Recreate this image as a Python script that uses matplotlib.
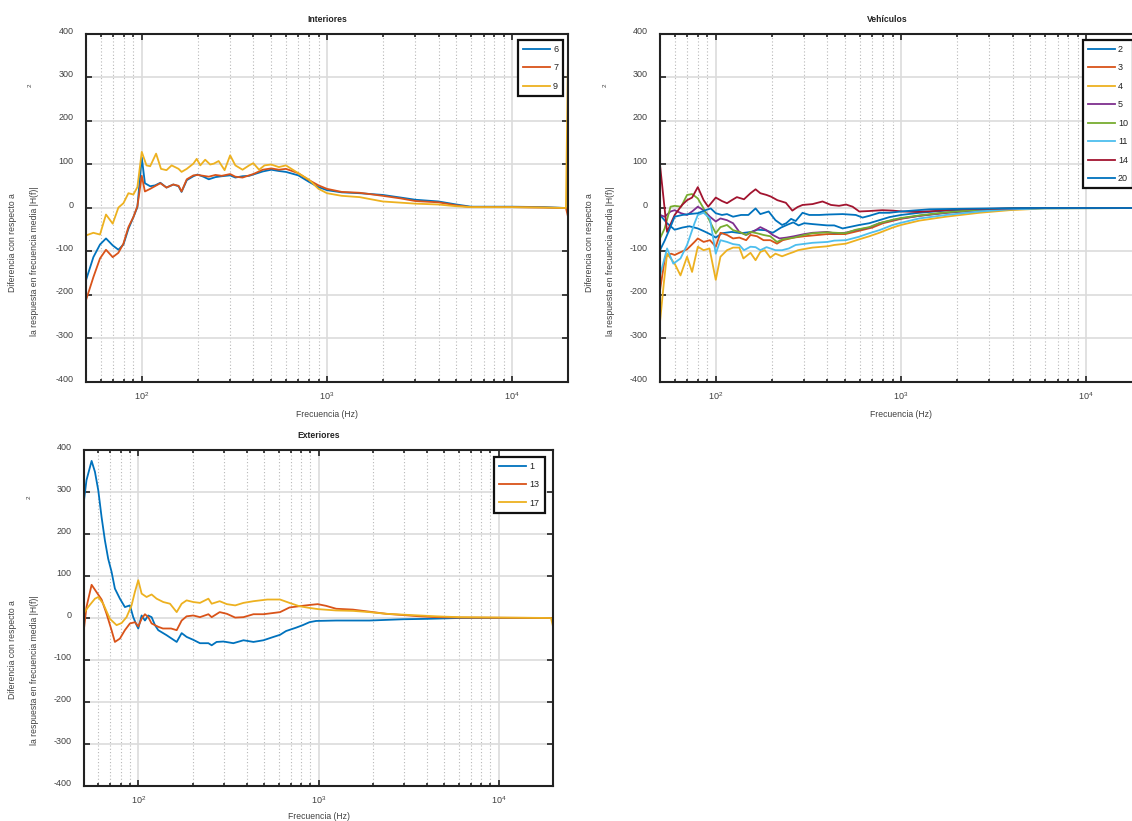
import matplotlib
matplotlib.use('Agg')
import matplotlib.pyplot as plt
import matplotlib.transforms as mtrans
from matplotlib.ticker import LogLocator
import numpy as np

plt.rcParams['font.family'] = ['Liberation Sans', 'DejaVu Sans']
plt.rcParams['mathtext.fontset'] = 'custom'
plt.rcParams['mathtext.rm'] = 'Liberation Sans'
plt.rcParams['axes.unicode_minus'] = False

C = ["#0072BD", "#D95319", "#EDB120", "#7E2F8E", "#77AC30", "#4DBEEE", "#A2142F", "#0072BD"]
TXT = "#404040"

# ---------------- Interiores ----------------
int_f6 = [50, 54.8, 59.5, 64.1, 69.7, 74.8, 79.6, 84.7, 90.1, 94.7, 100, 104, 111, 118, 126, 136, 148, 158,
          164, 175, 190, 200, 215, 230, 250, 270, 300, 320, 350, 380, 400, 450, 500, 550, 600, 700, 800,
          900, 1000, 1200, 1500, 2000, 2500, 3000, 4000, 5000, 6000, 8000, 10000, 15000, 19500, 20000]
int_v6 = [-166, -113, -84, -70, -86, -96, -84, -48, -21, 2, 116, 57, 50, 52, 58, 47, 54, 50,
          37, 64, 73, 77, 72, 66, 71, 73, 75, 70, 73, 74, 77, 84, 88, 85, 83, 75, 60,
          48, 41, 36, 34, 30, 24, 19, 15, 8, 3, 3, 3, 2, 0, 0]
int_f7 = [50, 54.8, 59.5, 64.1, 69.7, 74.8, 79.6, 84.7, 90.1, 94.7, 100, 104, 111, 126, 136, 148, 158,
          164, 175, 190, 200, 215, 230, 250, 270, 300, 320, 350, 380, 400, 450, 500, 550, 600, 700, 800,
          900, 1000, 1200, 1500, 2000, 2500, 3000, 4000, 5000, 6000, 8000, 10000, 15000, 19500, 20000]
int_v7 = [-212, -159, -116, -96, -113, -103, -82, -44, -21, 4, 74, 38, 44, 57, 47, 54, 51,
          38, 66, 75, 76, 74, 72, 76, 74, 78, 72, 70, 75, 78, 88, 91, 88, 90, 80, 64,
          52, 44, 37, 35, 28, 22, 16, 13, 6, 2, 2, 2, 1, 0, -20]
int_f9 = [50, 54.8, 59.5, 64.1, 69.7, 74.8, 79.6, 84.7, 90.1, 94.7, 100, 106, 111, 119.5, 127, 136, 145,
          158, 164, 175, 190, 198, 207, 220, 234, 245, 260, 280, 300, 320, 350, 380, 400, 430, 460, 500,
          550, 600, 700, 800, 900, 1000, 1200, 1500, 2000, 3000, 4000, 5000, 6000, 10000, 15000, 19500, 20000]
int_v9 = [-63, -57, -61, -15, -36, 1, 11, 34, 31, 48, 129, 98, 96, 125, 90, 87, 98,
          90, 83, 90, 102, 113, 98, 111, 100, 102, 108, 87, 121, 98, 88, 98, 103, 88, 98, 100,
          94, 98, 80, 65, 44, 34, 28, 25, 15, 10, 8, 4, 2, 2, 1, 0, 350]

# ---------------- Vehículos ----------------
veh_f2 = [50, 54.6, 60, 66, 72, 80, 88, 95, 100, 108, 122, 137, 155, 168, 185, 203, 225, 245, 262, 280,
          300, 333, 400, 436, 484, 537, 595, 674, 764, 865, 1000, 1256, 1750, 2650, 4000, 6000, 20000]
veh_v2 = [-16, -35, -50, -45, -42, -47, -55, -62, -68, -58, -55, -58, -55, -50, -51, -57, -45, -38, -33, -40,
          -35, -37, -40, -40, -47, -43, -39, -35, -28, -21, -16, -11, -6, -3, -1, 0, 0]
veh_f3 = [50, 53.3, 57.4, 60, 65, 70, 76.8, 80, 86, 93, 100, 106, 115, 124, 134, 146, 154, 167, 181, 197,
          214, 230, 264, 300, 400, 500, 600, 700, 800, 1000, 1250, 1750, 2650, 3850, 6000, 20000]
veh_v3 = [-189, -112, -105, -108, -101, -95, -78, -70, -78, -74, -89, -57, -62, -70, -68, -74, -62, -65, -74, -74,
          -82, -74, -68, -65, -60, -60, -52, -45, -35, -25, -18, -11, -5, -2, 0, 0]
veh_f4 = [50, 52.4, 54.6, 60, 64.5, 70, 74.5, 80, 86, 92.5, 100, 106, 115, 124, 134, 141, 154, 164, 174, 184,
          197, 210, 228, 248, 264, 278, 294, 333, 401, 436, 504, 595, 674, 764, 902, 1000, 1256, 1750, 2650,
          3850, 6000, 20000]
veh_v4 = [-262, -174, -105, -128, -155, -112, -147, -89, -97, -93, -165, -112, -97, -91, -91, -116, -103, -120, -101, -97,
          -114, -105, -111, -105, -101, -97, -95, -91, -88, -85, -82, -72, -65, -57, -45, -39, -29, -20, -11,
          -5, -1, 0]
veh_f5 = [50, 53, 57, 60, 65, 70, 74.5, 80, 86, 93, 100, 106, 115, 124, 134, 146, 164, 174, 188, 203,
          221, 241, 264, 300, 333, 400, 436, 500, 570, 674, 764, 902, 1000, 1256, 1750, 2650, 3850, 6000, 20000]
veh_v5 = [-16, -20, -8, -5, -12, -16, -8, 3, -5, -20, -31, -24, -28, -35, -55, -62, -51, -44, -51, -62,
          -70, -68, -65, -60, -57, -55, -58, -57, -51, -45, -35, -28, -24, -18, -11, -5, -2, 0, 0]
veh_f10 = [50, 53, 57, 60, 65, 70, 74.5, 80, 86, 94, 100, 106, 115, 124, 134, 146, 154, 167, 181, 197,
           214, 230, 264, 300, 333, 400, 500, 570, 674, 764, 902, 1000, 1256, 1750, 2650, 3850, 6000, 20000]
veh_v10 = [-70, -47, 3, 5, 3, 30, 32, 22, -1, -35, -58, -44, -39, -51, -55, -62, -55, -58, -62, -65,
           -78, -72, -68, -62, -58, -56, -58, -50, -44, -35, -27, -23, -17, -10, -4, -1, 0, 0]
veh_f11 = [50, 54.6, 59, 64.5, 70, 76.8, 80, 86, 93, 100, 106, 115, 124, 134, 142, 154, 164, 174, 188, 210,
           228, 248, 270, 294, 333, 401, 436, 504, 595, 674, 764, 902, 1000, 1256, 1750, 2650, 3850, 6000, 20000]
veh_v11 = [-155, -93, -128, -116, -85, -35, -16, -11, -24, -105, -74, -78, -83, -85, -97, -89, -90, -97, -90, -97,
           -97, -93, -85, -83, -80, -78, -75, -74, -66, -58, -51, -39, -34, -24, -16, -8, -3, -1, 0]
veh_f14 = [50, 54.6, 60, 65.8, 70, 74.5, 80, 86, 91, 100, 108, 115, 122, 130, 142, 154, 164, 174, 188, 199,
           215, 239, 259, 276, 294, 333, 377, 419, 463, 505, 548, 595, 670, 793, 900, 1020, 1200, 1500, 2000,
           3000, 5000, 20000]
veh_v14 = [99, -55, -16, 7, 18, 24, 48, 18, 3, 24, 16, 11, 18, 25, 20, 34, 43, 34, 30, 26,
           18, 12, -6, 2, 7, 9, 15, 7, 5, 8, 3, -8, -7, -5, -6, -8, -9, -7, -3,
           -2, 0, 0]
veh_f20 = [50, 53, 56, 60, 66, 72, 80, 88, 94, 100, 108, 115, 124, 137, 150, 164, 174, 193, 210, 228,
           240, 255, 270, 294, 320, 362, 401, 484, 570, 620, 674, 764, 865, 1000, 1422, 1983, 3000, 5000, 20000]
veh_v20 = [-97, -75, -51, -20, -16, -14, -12, -5, -1, -12, -16, -14, -20, -16, -16, -1, -14, -8, -28, -39,
           -35, -25, -30, -11, -16, -16, -15, -14, -16, -22, -18, -11, -11, -8, -3, -2, -1, 0, 0]

# ---------------- Exteriores ----------------
ext_f1 = [50, 51.6, 55.1, 57.5, 60, 62.6, 65.3, 68.1, 71.1, 74.2, 79.1, 84.3, 89.9, 93.8, 97.9, 100, 104.4,
          108.9, 113.6, 118.6, 123.8, 129.1, 143.7, 163.4, 174.1, 185.5, 202, 220, 245, 255.5, 272, 297, 337,
          383.5, 435.6, 495, 563, 612, 661, 751, 818, 891, 970, 1254, 1921, 2940, 4000, 6000, 20000]
ext_v1 = [280, 328, 374, 348, 304, 240, 185, 141, 110, 70, 46, 26, 30, 2, -17, -25, 6,
          -6, 6, 2, -17, -29, -41, -57, -36, -45, -52, -60, -60, -65, -57, -56, -60,
          -53, -57, -53, -45, -40, -31, -23, -17, -10, -7, -6, -6, -3, -2, 0, 0]
ext_f13 = [50, 51.6, 55.1, 58.6, 62.6, 66.7, 71.1, 74.2, 79.1, 84.3, 89.9, 95.9, 100, 104.4, 108.9, 113.6,
           118.6, 129.1, 137, 152, 163.4, 174.1, 185.5, 202, 220, 245, 255.5, 283, 310, 345, 383.5, 435.6,
           495, 563, 612, 690, 780, 891, 990, 1100, 1254, 1550, 1921, 2375, 2940, 3635, 4500, 6000, 20000]
ext_v13 = [-25, 26, 79, 62, 44, 10, -29, -57, -49, -29, -13, -10, -20, -2, 9, 2,
           -13, -21, -25, -25, -29, -6, 4, 6, 2, 9, 2, 14, 10, 1, 2, 9,
           9, 12, 14, 25, 28, 31, 33, 29, 22, 20, 15, 10, 7, 4, 2, 1, 0]
ext_f17 = [50, 52.7, 57.5, 60, 63.9, 69.6, 75.8, 80.8, 86.1, 91.8, 95.8, 100, 104.4, 111.2, 118.6, 126.4,
           137.7, 150, 163.4, 174.1, 185.5, 202, 220, 245, 255.5, 283, 310, 345, 383.5, 435.6, 520, 612,
           690, 784, 891, 1000, 1250, 1550, 1921, 2375, 2940, 3635, 4500, 6000, 19500, 20000]
ext_v17 = [12, 26, 46, 50, 34, -2, -17, -12, 2, 30, 62, 90, 58, 50, 56, 46,
           38, 34, 14, 34, 42, 38, 36, 46, 34, 40, 33, 30, 36, 40, 44, 44,
           36, 28, 24, 21, 18, 17, 14, 10, 8, 6, 4, 2, 0, -20]

W, H = 1132, 821
fig = plt.figure(figsize=(W / 100, H / 100), dpi=100)


def px_box(l, t, r, b):
    return [l / W, 1 - b / H, (r - l) / W, (b - t) / H]


def style(ax, title, title_dx=0.5, xlabelpad=6):
    ax.set_xscale("log")
    ax.set_xlim(50, 20000)
    ax.set_ylim(-400, 400)
    ax.set_yticks(np.arange(-400, 401, 100))
    ax.xaxis.set_minor_locator(LogLocator(base=10, subs=np.arange(2, 10), numticks=20))
    ax.grid(True, which="major", axis="both", color="#dcdcdc", lw=1.2, ls="-")
    ax.grid(True, which="minor", axis="x", color="#b8b8b8", lw=0.8, ls=(0, (1, 2)))
    ax.set_axisbelow(True)
    ax.tick_params(which="both", direction="in", top=True, right=True, colors="#222222",
                   labelcolor=TXT, labelsize=6.5, width=1.2)
    ax.tick_params(which="major", length=4)
    ax.tick_params(which="minor", length=2.5)
    ax.tick_params(axis="x", pad=6)
    ax.tick_params(axis="y", pad=9)
    for s in ax.spines.values():
        s.set_linewidth(1.5)
        s.set_color("#222222")
    off = mtrans.ScaledTranslation(0, 4 / 100, fig.dpi_scale_trans)
    for lab in ax.get_yticklabels():
        lab.set_transform(lab.get_transform() + off)
    ax.set_xlabel("Frecuencia (Hz)", fontsize=6.2, color=TXT, labelpad=xlabelpad)
    ax.text(title_dx, 1.043, title, transform=ax.transAxes, ha="center", va="center",
            fontsize=6.2, fontweight="bold", color="#222222")


def ylab(x1, y1, x2, y2, xs, ys):
    fig.text(x1 / W, 1 - y1 / H, "Diferencia con respecto a", rotation=90, ha="center", va="center",
             fontsize=6.2, color=TXT)
    fig.text(x2 / W, 1 - y2 / H, "la respuesta en frecuencia media |H(f)|", rotation=90, ha="center",
             va="center", fontsize=6.2, color=TXT)
    fig.text(xs / W, 1 - ys / H, "2", rotation=90, ha="center", va="center", fontsize=4.5, color=TXT)


def legend(ax, anchor, loc):
    lg = ax.legend(loc=loc, bbox_to_anchor=anchor, borderaxespad=0, fontsize=6.5, handlelength=3.0,
                   handletextpad=0.35, labelspacing=1.05, borderpad=0.55, fancybox=False,
                   frameon=True, framealpha=1)
    lg.get_frame().set_edgecolor("#111111")
    lg.get_frame().set_linewidth(1.6)
    for t in lg.get_texts():
        t.set_color("#222222")


LW = 1.3

# Interiores
ax1 = fig.add_axes(px_box(86, 34, 568, 382))
for f, v, lab, c in [(int_f6, int_v6, "6", C[0]), (int_f7, int_v7, "7", C[1]), (int_f9, int_v9, "9", C[2])]:
    ax1.plot(f, v, color=c, lw=LW, label=lab)
style(ax1, "Interiores")
legend(ax1, (0.99, 0.983), "upper right")
ylab(13, 243, 35, 261, 30, 85)

# Vehículos
ax2 = fig.add_axes(px_box(660, 34, 1142, 382))
veh = [(veh_f2, veh_v2, "2"), (veh_f3, veh_v3, "3"), (veh_f4, veh_v4, "4"), (veh_f5, veh_v5, "5"),
       (veh_f10, veh_v10, "10"), (veh_f11, veh_v11, "11"), (veh_f14, veh_v14, "14"), (veh_f20, veh_v20, "20")]
for i, (f, v, lab) in enumerate(veh):
    ax2.plot(f, v, color=C[i], lw=LW, label=lab)
style(ax2, "Vehículos", title_dx=0.471)
legend(ax2, (0.877, 0.983), "upper left")
ylab(589, 243, 611, 261, 605, 85)

# Exteriores
ax3 = fig.add_axes(px_box(84, 450, 553, 786))
for f, v, lab, c in [(ext_f1, ext_v1, "1", C[0]), (ext_f13, ext_v13, "13", C[1]), (ext_f17, ext_v17, "17", C[2])]:
    ax3.plot(f, v, color=c, lw=LW, label=lab)
style(ax3, "Exteriores", xlabelpad=4)
legend(ax3, (0.982, 0.98), "upper right")
ylab(13, 650, 35, 670, 29, 497)

fig.savefig("out.png", dpi=100)
